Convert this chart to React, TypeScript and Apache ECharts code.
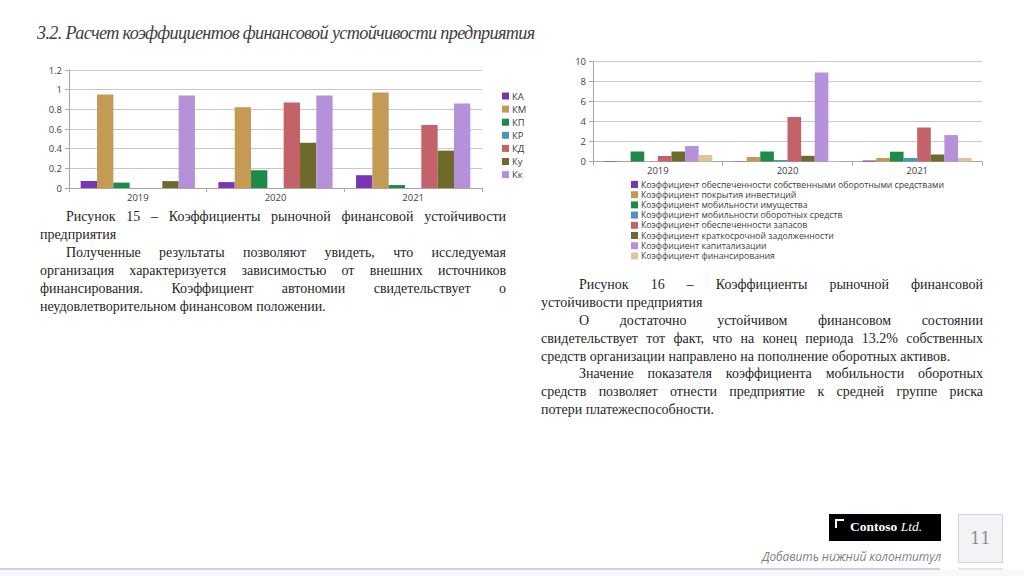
import React, { useEffect, useRef } from "react";
import * as echarts from "echarts";

const years = ["2019", "2020", "2021"];

// Chart 1 (Рисунок 15)
const shortNames = ["КА", "КМ", "КП", "КР", "КД", "Ку", "Кк"];
const kA = [0.07, 0.06, 0.13];
const kM = [0.95, 0.82, 0.97];
const kP = [0.055, 0.18, 0.03];
const kR = [0, 0, 0];
const kD = [0, 0.87, 0.64];
const kU = [0.07, 0.46, 0.38];
const kK = [0.94, 0.94, 0.86];
const chart1Values = [kA, kM, kP, kR, kD, kU, kK];
const chart1Ticks = { min: 0, max: 1.2, interval: 0.2 };

// Chart 2 (Рисунок 16)
const longNames = [
  "Коэффициент обеспеченности собственными оборотными средствами",
  "Коэффициент покрытия инвестиций",
  "Коэффициент мобильности имущества",
  "Коэффициент мобильности оборотных средств",
  "Коэффициент обеспеченности запасов",
  "Коэффициент краткосрочной задолженности",
  "Коэффициент капитализации",
  "Коэффициент финансирования",
];
const obespSOS = [0.05, 0.03, 0.1];
const pokrInv = [0.05, 0.45, 0.35];
const mobIm = [1.0, 1.0, 0.98];
const mobOS = [0, 0.15, 0.35];
const obespZap = [0.55, 4.45, 3.4];
const kratkZad = [1.0, 0.57, 0.7];
const kapit = [1.55, 8.9, 2.64];
const finans = [0.65, 0.05, 0.35];
const chart2Values = [obespSOS, pokrInv, mobIm, mobOS, obespZap, kratkZad, kapit, finans];
const chart2Ticks = { min: 0, max: 10, interval: 2 };

const colors = ["#7a35b5", "#c49a55", "#1e8a4a", "#4a94c4", "#c4626a", "#6e6a2c", "#b591da", "#e2c49a"];

const leftLines: [string, boolean, boolean][] = [
  ["Рисунок 15 – Коэффициенты рыночной финансовой устойчивости", true, true],
  ["предприятия", false, false],
  ["Полученные результаты позволяют увидеть, что исследуемая", true, true],
  ["организация характеризуется зависимостью от внешних источников", false, true],
  ["финансирования. Коэффициент автономии свидетельствует о", false, true],
  ["неудовлетворительном финансовом положении.", false, false],
];
const rightLines: [string, boolean, boolean][] = [
  ["Рисунок 16 – Коэффициенты рыночной финансовой", true, true],
  ["устойчивости предприятия", false, false],
  ["О достаточно устойчивом финансовом состоянии", true, true],
  ["свидетельствует тот факт, что на конец периода 13.2% собственных", false, true],
  ["средств организации направлено на пополнение оборотных активов.", false, false],
  ["Значение показателя коэффициента мобильности оборотных", true, true],
  ["средств позволяет отнести предприятие к средней группе риска", false, true],
  ["потери платежеспособности.", false, false],
];

const axisGray = "#a6a6a6";
const gridGray = "#c8c8c8";
const labelFont = "'Open Sans', 'Noto Sans', sans-serif";

function TextBlock(props: { lines: [string, boolean, boolean][]; left: number; top: number; width: number; indent: number; lh: number }) {
  return (
    <div
      style={{
        position: "absolute",
        left: props.left,
        top: props.top,
        width: props.width,
        fontFamily: "'Liberation Serif', 'DejaVu Serif', serif",
        fontSize: 14,
        lineHeight: props.lh + "px",
        color: "#1f1f1f",
      }}
    >
      {props.lines.map((l, i) => (
        <div
          key={i}
          style={{
            textIndent: l[1] ? props.indent : 0,
            textAlign: l[2] ? "justify" : "left",
            textAlignLast: l[2] ? "justify" : "left",
            height: props.lh,
          }}
        >
          {l[0]}
        </div>
      ))}
    </div>
  );
}

export default function App() {
  const ref = useRef<HTMLDivElement>(null);

  useEffect(() => {
    if (!ref.current) return;
    const chart = echarts.init(ref.current, undefined, { renderer: "svg" });

    const mkX = (gi: number) => ({
      type: "category" as const,
      gridIndex: gi,
      data: years,
      axisLine: { lineStyle: { color: axisGray, width: 1 } },
      axisTick: { show: true, length: 4, lineStyle: { color: axisGray } },
      axisLabel: { fontSize: 9.5, color: "#404040", fontFamily: labelFont, margin: 4 },
    });
    const mkY = (gi: number, t: { min: number; max: number; interval: number }) => ({
      type: "value" as const,
      gridIndex: gi,
      min: t.min,
      max: t.max,
      interval: t.interval,
      axisLine: { show: true, lineStyle: { color: axisGray, width: 1 } },
      axisTick: { show: true, length: 4, lineStyle: { color: axisGray } },
      splitLine: { lineStyle: { color: gridGray, width: 1.2 } },
      axisLabel: { fontSize: 9.5, color: "#404040", fontFamily: labelFont, margin: 7 },
    });

    const series: any[] = [];
    chart1Values.forEach((vals, i) => {
      series.push({
        type: "bar",
        name: shortNames[i],
        xAxisIndex: 0,
        yAxisIndex: 0,
        data: vals,
        barGap: "0%",
        barCategoryGap: "17%",
        itemStyle: { color: colors[i] },
      });
    });
    chart2Values.forEach((vals, i) => {
      series.push({
        type: "bar",
        name: longNames[i],
        xAxisIndex: 1,
        yAxisIndex: 1,
        data: vals,
        barGap: "0%",
        barCategoryGap: "16%",
        itemStyle: { color: colors[i] },
      });
    });

    chart.setOption({
      animation: false,
      backgroundColor: "transparent",
      grid: [
        { left: 69, top: 70, width: 413, height: 118 },
        { left: 593, top: 61.5, width: 389, height: 100 },
      ],
      xAxis: [mkX(0), mkX(1)],
      yAxis: [mkY(0, chart1Ticks), mkY(1, chart2Ticks)],
      legend: [
        {
          data: shortNames,
          orient: "vertical",
          left: 497,
          top: 86,
          itemWidth: 7,
          itemHeight: 7,
          itemGap: 3.1,
          icon: "rect",
          textStyle: { fontSize: 9.5, lineHeight: 9, color: "#404040", fontFamily: labelFont, padding: [0, 0, 0, -2] },
        },
        {
          data: longNames,
          orient: "vertical",
          left: 626,
          top: 175,
          itemWidth: 7,
          itemHeight: 7,
          itemGap: 1.2,
          icon: "rect",
          textStyle: { fontSize: 8.7, lineHeight: 8.5, color: "#404040", fontFamily: labelFont, padding: [0, 0, 0, -2] },
        },
      ],
      series,
    });

    return () => chart.dispose();
  }, []);

  return (
    <div
      style={{
        position: "fixed",
        left: 0,
        top: 0,
        width: 1024,
        height: 576,
        background: "#ffffff",
        overflow: "hidden",
      }}
    >
      <div ref={ref} style={{ position: "absolute", left: 0, top: 0, width: 1024, height: 576 }} />
      <div
        style={{
          position: "absolute",
          left: 37,
          top: 23,
          fontFamily: "'Liberation Serif', 'DejaVu Serif', serif",
          fontStyle: "italic",
          fontSize: 18.2,
          letterSpacing: -0.65,
          color: "#404040",
          whiteSpace: "nowrap",
        }}
      >
        3.2. Расчет коэффициентов финансовой устойчивости предприятия
      </div>
      <TextBlock lines={leftLines} left={40} top={208} width={466} indent={26} lh={18} />
      <TextBlock lines={rightLines} left={541} top={276} width={442} indent={38} lh={17.9} />

      {/* footer */}
      <div style={{ position: "absolute", left: 829, top: 514, width: 112, height: 27, background: "#000" }}>
        <div style={{ position: "absolute", left: 6, top: 5, width: 9, height: 2, background: "#fff" }} />
        <div style={{ position: "absolute", left: 6, top: 5, width: 2, height: 9, background: "#fff" }} />
        <div
          style={{
            position: "absolute",
            left: 21,
            top: 5,
            color: "#fff",
            fontFamily: "'Liberation Serif', serif",
            fontSize: 13.5,
            lineHeight: "16px",
            whiteSpace: "nowrap",
          }}
        >
          <b>Contoso</b> <i>Ltd.</i>
        </div>
      </div>
      <div
        style={{
          position: "absolute",
          right: 1024 - 941,
          top: 548,
          fontFamily: "'Open Sans', sans-serif",
          fontStyle: "italic",
          fontSize: 12,
          color: "#7f7f7f",
          whiteSpace: "nowrap",
          letterSpacing: -0.1,
        }}
      >
        Добавить нижний колонтитул
      </div>
      <div
        style={{
          position: "absolute",
          left: 958,
          top: 514,
          width: 43,
          height: 47,
          background: "#f3f2f4",
          border: "1px solid #d9cfe8",
          display: "flex",
          alignItems: "center",
          justifyContent: "center",
          fontFamily: "'DejaVu Serif', 'Liberation Serif', serif",
          fontSize: 16,
          color: "#8c8c8c",
        }}
      >
        11
      </div>
      <div style={{ position: "absolute", left: 0, top: 568, width: 940, height: 2, background: "#d8cbe6" }} />
      <div style={{ position: "absolute", left: 958, top: 568, width: 45, height: 2, background: "#e6e6e6" }} />
      <div style={{ position: "absolute", left: 0, top: 570, width: 1024, height: 6, background: "#f8f7fa" }} />
    </div>
  );
}
